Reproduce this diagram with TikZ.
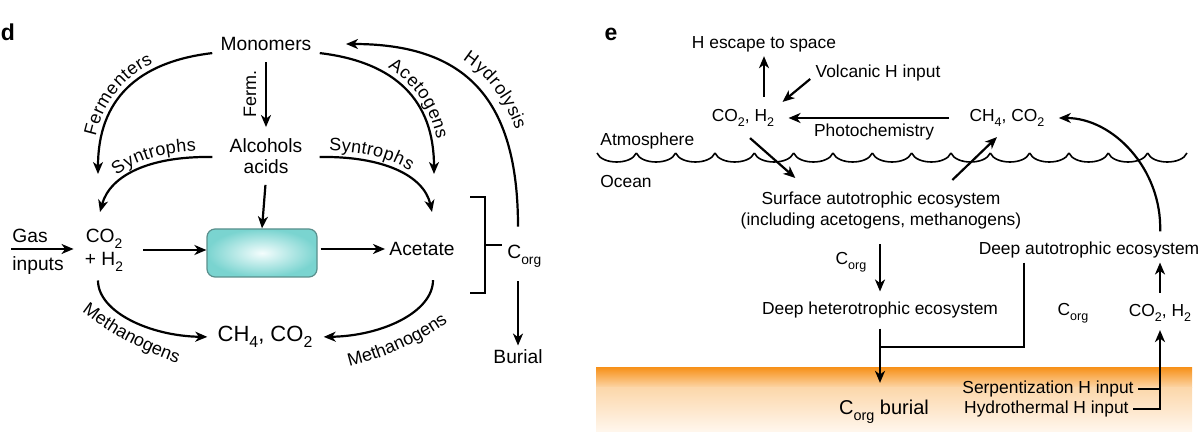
\documentclass[tikz,border=0pt]{standalone}
\usepackage{fontspec}
\setmainfont{Liberation Sans}
\usetikzlibrary{arrows.meta,calc,decorations.text}
\newcommand\lsub[1]{\raisebox{-0.3em}{\scalebox{0.72}{#1}}}
\newcommand\labfont{\fontsize{9}{10}\selectfont}
\definecolor{boxout}{HTML}{7AD4D0}
\definecolor{boxin}{HTML}{F4FDFD}
\definecolor{boxedge}{HTML}{5A8F8C}
\definecolor{orng}{HTML}{F7931E}
\definecolor{orngmid}{HTML}{FCD7AA}
\definecolor{orngpale}{HTML}{FFF7EE}
\begin{document}
\begin{tikzpicture}[x=0.5pt,y=-0.5pt,
  arr/.style={line width=1.1pt,-{Stealth[length=6pt,width=5pt,inset=1.8pt]}},
  ln/.style={line width=1.1pt},
  dtxt/.style={font=\fontsize{9.6}{10.5}\selectfont, inner sep=2pt},
  etxt/.style={font=\fontsize{8.7}{10.5}\selectfont, inner sep=2pt},
  lab/.style={font=\labfont, inner sep=1pt},
  big/.style={font=\fontsize{11}{12}\selectfont, inner sep=2pt},
  panel/.style={font=\fontsize{11.5}{12}\bfseries\selectfont, inner sep=0pt},
  curvelab/.style n args={3}{decorate, decoration={text along path, text={|\labfont|#1}, text align={left indent=#2}, raise=#3}},
  curvelabc/.style={decorate, decoration={text along path, text={|\labfont|#1}, text align=center}},
]
\useasboundingbox (0,0) rectangle (1200,432);

% ---------------- panel d ----------------
\node[panel] (pd) at (8,32) {d};
\node[dtxt] (mono) at (266,44) {Monomers};
\node[dtxt, align=center] (alc) at (266,156) {Alcohols\\acids};
\node[dtxt, align=center, font=\fontsize{9.6}{11.5}\selectfont] (co2h) at (104,250) {CO\lsub{2}\\+ H\lsub{2}};
\node[draw=boxedge, line width=0.6pt, rounded corners=4pt, minimum width=55pt, minimum height=24pt, inner color=boxin, outer color=boxout] (box) at (262,253) {};
\node[dtxt] (acet) at (422,249) {Acetate};
\node[big] (ch4) at (265,337) {CH\lsub{4}, CO\lsub{2}};
\node[dtxt, anchor=west] (corgd) at (503,256) {C\lsub{org}};
\node[dtxt] (burial) at (518,357) {Burial};
\node[dtxt, anchor=west] (gas) at (8,236) {Gas};
\node[dtxt, anchor=west] (inputs) at (8,266) {inputs};
\coordinate (gasin) at (11,249);
\coordinate (fermE) at (98,174);
\coordinate (synLE) at (100,212);
\coordinate (acetoE) at (434,174);
\coordinate (synRE) at (432,212);
\coordinate (hydE) at (346,44);

\draw[arr, shorten >=3.5pt] (gasin) -- (gasin -| co2h.west);
\draw[arr, shorten <=8pt] (co2h.east) -- (co2h.east -| box.west);
\draw[arr, shorten <=1.5pt] (box.east |- acet.west) -- (acet.west);
\draw[arr, shorten <=3.5pt, shorten >=3.5pt] (mono.south) -- (alc.north);
\draw[arr, shorten <=3.5pt] (alc.south) -- (box.north);

\draw[arr] ($(mono.south west)+(-4,-2)$) .. controls (137,62) and (98,100) .. (fermE);
\draw[arr] ($(alc.west)+(-13,1)$) .. controls (150,156) and (110,175) .. (synLE);
\draw[arr] ($(mono.south east)+(4,-2)$) .. controls (395,62) and (434,100) .. (acetoE);
\draw[arr] ($(alc.east)+(13,1)$) .. controls (382,156) and (424,175) .. (synRE);
\draw[arr, shorten <=7pt] (corgd.north -| burial.north) .. controls (518,99) and (466,44) .. (hydE);
\draw[arr, shorten >=3pt] ($(co2h.south)+(-6,5)$) .. controls (98,312) and (150,336) .. (ch4.west);
\draw[arr, shorten >=3.5pt] ($(acet.south)+(11,20)$) .. controls (433,312) and (382,336) .. (ch4.east);
\draw[arr, shorten <=5pt] (corgd.south -| burial.north) -- (burial.north);

\draw[ln] (470,197) -- (485,197) -- (485,293) -- (470,293);
\draw[ln] (485,245) -- (502,245);

% curved labels
\path[curvelab={Fermenters}{18pt}{3pt}] (98,174) .. controls (98,100) and (137,62) .. (212,53);
\path[curvelab={Syntrophs}{19pt}{3pt}] (100,212) .. controls (110,175) and (150,156) .. (212,157);
\path[curvelab={Acetogens}{34pt}{3pt}] (320,53) .. controls (395,62) and (434,100) .. (434,174);
\path[curvelab={Syntrophs}{4.5pt}{3pt}] (320,157) .. controls (382,156) and (424,175) .. (432,212);
\path[curvelab={Hydrolysis}{57pt}{6pt}] (346,44) .. controls (466,44) and (518,99) .. (518,228);
\path[curvelabc={Methanogens}] (70,302) .. controls (100,328) and (140,352) .. (192,368);
\path[curvelabc={Methanogens}] (334,370) .. controls (375,363) and (430,340) .. (460,312);
\node[lab, rotate=90] (lferm) at (250,94) {Ferm.};

% ---------------- panel e ----------------
\shade[top color=orng, bottom color=orngmid] (596,368) rectangle (1192,388);
\shade[top color=orngmid, bottom color=orngpale] (596,387.5) rectangle (1192,432);

\node[panel] (pe) at (611,34) {e};
\node[etxt] (hesc) at (764,44) {H escape to space};
\node[etxt] (volc) at (878,73) {Volcanic H input};
\node[etxt] (co2a) at (743,118) {CO\lsub{2}, H\lsub{2}};
\node[etxt] (ch4a) at (1007,118) {CH\lsub{4}, CO\lsub{2}};
\node[etxt] (photo) at (874,132) {Photochemistry};
\node[etxt, anchor=west] (atm) at (596,141) {Atmosphere};
\node[etxt, anchor=west] (ocean) at (596,182) {Ocean};
\node[etxt, align=center] (surf) at (881,211) {Surface autotrophic ecosystem\\(including acetogens, methanogens)};
\node[etxt] (corg1) at (851,262) {C\lsub{org}};
\node[etxt] (dhet) at (880,310) {Deep heterotrophic ecosystem};
\node[etxt] (dauto) at (1089,250) {Deep autotrophic ecosystem};
\node[etxt] (corg2) at (1073,313) {C\lsub{org}};
\node[etxt] (co2b) at (1160,313) {CO\lsub{2}, H\lsub{2}};
\node[etxt, font=\fontsize{10}{12}\selectfont] (burial2) at (884,412) {C\lsub{org} burial};
\node[etxt, anchor=east] (serp) at (1138,389) {Serpentization H input};
\node[etxt, anchor=east] (hydro) at (1133,409) {Hydrothermal H input};

% waves
\foreach \i in {0,...,14}{
  \pgfmathsetmacro\xa{597+39.33*\i}
  \pgfmathsetmacro\xb{\xa+39.33}
  \draw[line width=0.8pt] (\xa,153) .. controls (\xa+5,165) and (\xb-5,165) .. (\xb,153);
}

\draw[arr, shorten <=4pt] (co2a.north -| hesc.south) -- (hesc.south);
\draw[arr] ($(volc.west)+(-1,6)$) -- ($(co2a.north east)+(4,-3)$);
\draw[arr, shorten <=8pt, shorten >=5pt] (ch4a.west) -- (co2a.east);
\draw[arr] ($(co2a.south)+(7,7)$) -- ($(surf.north west)+(59,-10)$);
\draw[arr] ($(surf.north west)+(216,-8)$) -- ($(ch4a.south)+(-10,6)$);
\draw[arr, shorten <=5pt, shorten >=3pt] (dhet.north |- surf.south) -- (dhet.north);
\draw[arr, shorten <=3pt, shorten >=6.5pt] (dhet.south) -- (dhet.south |- burial2.north);
\draw[ln] (1024,0 |- dauto.south) |- (dhet.south |- 0,347);
\draw[arr, shorten <=3.5pt] (co2b.north) -- (co2b.north |- dauto.south);
\draw[arr, shorten <=3pt, shorten >=5pt] (co2b.north |- dauto.north) .. controls (1162,169) and (1113,118) .. (ch4a.east);
\draw[ln] (serp.east) -- (serp.east -| co2b.south);
\draw[arr, shorten >=2pt] (hydro.east) -| (co2b.south);
\end{tikzpicture}
\end{document}
